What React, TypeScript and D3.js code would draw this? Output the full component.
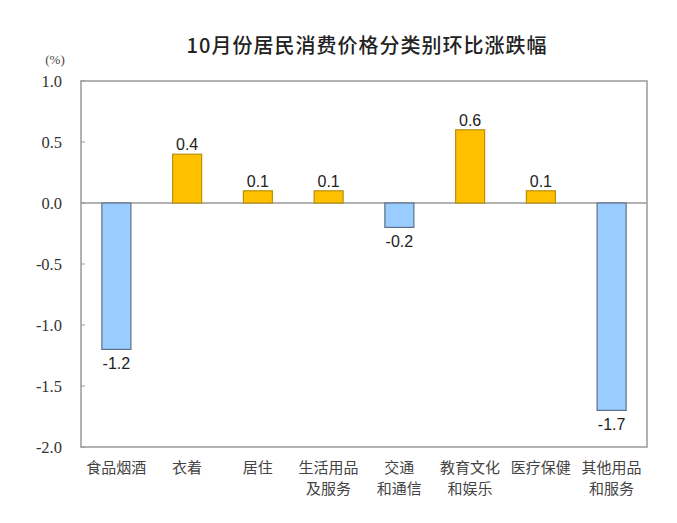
import React from "react";
import * as d3 from "d3";

const categories: string[][] = [
  ["食品烟酒"],
  ["衣着"],
  ["居住"],
  ["生活用品", "及服务"],
  ["交通", "和通信"],
  ["教育文化", "和娱乐"],
  ["医疗保健"],
  ["其他用品", "和服务"],
];
const values: number[] = [-1.2, 0.4, 0.1, 0.1, -0.2, 0.6, 0.1, -1.7];
const yTicks: number[] = [1.0, 0.5, 0.0, -0.5, -1.0, -1.5, -2.0];
const title = "10月份居民消费价格分类别环比涨跌幅";
const unit = "(%)";

const W = 677;
const H = 523;
const left = 81;
const right = 647;
const top = 81;
const bottom = 447;

export default function App() {
  const x = d3
    .scaleBand<number>()
    .domain(d3.range(values.length))
    .range([left, right])
    .paddingInner(0.59)
    .paddingOuter(0.295);
  const y = d3.scaleLinear().domain([-2, 1]).range([bottom, top]);
  const sans = "Liberation Sans, Arial, sans-serif";
  const cjk = "Noto Sans CJK SC, sans-serif";
  const serif = "Liberation Serif, Times New Roman, serif";
  return (
    <svg
      width={W}
      height={H}
      style={{ position: "absolute", left: 0, top: 0, background: "#fff" }}
    >
      <text
        x={367}
        y={53}
        textAnchor="middle"
        fontFamily={cjk}
        fontSize={20}
        fontWeight={500}
        letterSpacing={1}
        fill="#222"
      >
        {title}
      </text>
      <text x={55} y={64} textAnchor="middle" fontFamily={serif} fontSize={13} fill="#444">
        {unit}
      </text>
      <rect
        x={left}
        y={top}
        width={right - left}
        height={bottom - top}
        fill="none"
        stroke="#999"
        strokeWidth={1.5}
      />
      {yTicks.map((t) => (
        <g key={t}>
          <line x1={left} x2={left + 4} y1={y(t)} y2={y(t)} stroke="#999" />
          <text
            x={62}
            y={y(t) + 6}
            textAnchor="end"
            fontFamily={serif}
            fontSize={16.5}
            fill="#333"
          >
            {t.toFixed(1)}
          </text>
        </g>
      ))}
      <line x1={left} x2={right} y1={y(0)} y2={y(0)} stroke="#999" strokeWidth={1.5} />
      {values.map((v, i) => {
        const bx = x(i)!;
        const bw = x.bandwidth();
        const y0 = y(Math.max(0, v));
        const h = Math.abs(y(v) - y(0));
        const pos = v >= 0;
        return (
          <g key={i}>
            <rect
              x={bx}
              y={y0}
              width={bw}
              height={h}
              fill={pos ? "#FFC000" : "#99CCFF"}
              stroke={pos ? "#B8900A" : "#5F6F86"}
              strokeWidth={1.2}
            />
            <text
              x={bx + bw / 2}
              y={pos ? y(v) - 4 : y(v) + 20}
              textAnchor="middle"
              fontFamily={sans}
              fontSize={16}
              fill="#222"
            >
              {v.toFixed(1)}
            </text>
          </g>
        );
      })}
      {categories.map((lines, i) => (
        <text
          key={i}
          x={x(i)! + x.bandwidth() / 2}
          y={473}
          textAnchor="middle"
          fontFamily={cjk}
          fontSize={15}
          fill="#444"
        >
          {lines.map((l, j) => (
            <tspan key={j} x={x(i)! + x.bandwidth() / 2} dy={j === 0 ? 0 : 21}>
              {l}
            </tspan>
          ))}
        </text>
      ))}
    </svg>
  );
}
